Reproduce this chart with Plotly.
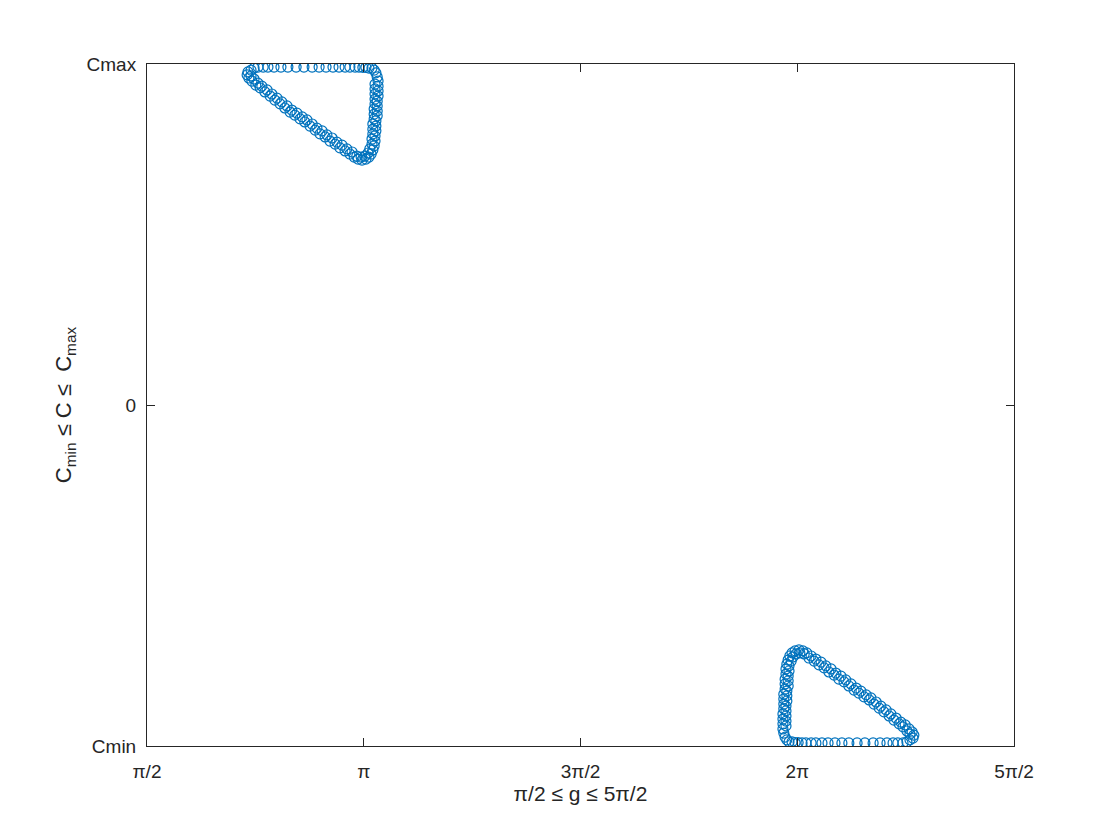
import numpy as np
import plotly.graph_objects as go

# g in units of pi, C normalised so that Cmin = -1 and Cmax = 1
# loop near the top-left corner, first lap
g1_over_pi = [0.731, 0.733, 0.740, 0.747, 0.756, 0.768, 0.779, 0.793, 0.809, 0.825,
              0.844, 0.862, 0.881, 0.897, 0.913, 0.929, 0.943, 0.957, 0.968, 0.980,
              0.989, 0.998, 1.005, 1.012, 1.019, 1.024, 1.028, 1.031, 1.033, 1.033,
              1.033, 1.033, 1.031, 1.031, 1.031, 1.031, 1.028, 1.028, 1.028, 1.026,
              1.026, 1.024, 1.021, 1.017, 1.012, 1.005, 0.996, 0.987, 0.978, 0.968,
              0.957, 0.945, 0.934, 0.922, 0.911, 0.899, 0.888, 0.876, 0.864, 0.853,
              0.841, 0.830, 0.818, 0.807, 0.795, 0.784, 0.772, 0.761, 0.751, 0.742,
              0.735]
c1 = [0.968, 0.977, 0.982, 0.988, 0.991, 0.991, 0.991, 0.991, 0.991, 0.991,
      0.991, 0.991, 0.991, 0.991, 0.991, 0.991, 0.991, 0.991, 0.991, 0.991,
      0.991, 0.990, 0.990, 0.988, 0.988, 0.982, 0.974, 0.962, 0.950, 0.935,
      0.921, 0.906, 0.891, 0.877, 0.862, 0.848, 0.833, 0.818, 0.804, 0.789,
      0.774, 0.760, 0.748, 0.736, 0.727, 0.721, 0.718, 0.721, 0.727, 0.736,
      0.745, 0.754, 0.765, 0.774, 0.786, 0.795, 0.806, 0.818, 0.830, 0.839,
      0.850, 0.859, 0.871, 0.883, 0.894, 0.906, 0.918, 0.930, 0.938, 0.950,
      0.959]
# second lap, slightly inside the first on the right side and diagonal
g1b_over_pi = [1.026, 1.026, 1.026, 1.026, 1.026, 1.024, 1.024, 1.024, 1.021, 1.021,
               1.021, 1.019, 1.019, 1.014, 1.010, 1.003, 0.994, 0.984, 0.973, 0.961,
               0.950, 0.938, 0.927, 0.915, 0.904, 0.892, 0.881, 0.869, 0.858, 0.846,
               0.834, 0.823, 0.811, 0.800, 0.788, 0.777, 0.765, 0.756, 0.747, 0.740]
c1b = [0.941, 0.927, 0.912, 0.897, 0.883, 0.868, 0.853, 0.839, 0.824, 0.809,
       0.795, 0.780, 0.765, 0.751, 0.739, 0.730, 0.727, 0.730, 0.742, 0.751,
       0.762, 0.771, 0.783, 0.792, 0.804, 0.812, 0.824, 0.836, 0.845, 0.856,
       0.865, 0.877, 0.889, 0.900, 0.912, 0.924, 0.935, 0.944, 0.956, 0.965]

# loop near the bottom-right corner, first lap
g2_over_pi = [2.269, 2.267, 2.260, 2.253, 2.244, 2.232, 2.221, 2.207, 2.191, 2.175,
              2.156, 2.138, 2.119, 2.103, 2.087, 2.071, 2.057, 2.043, 2.032, 2.020,
              2.011, 2.002, 1.995, 1.988, 1.981, 1.976, 1.972, 1.969, 1.967, 1.967,
              1.967, 1.967, 1.969, 1.969, 1.969, 1.969, 1.972, 1.972, 1.972, 1.974,
              1.974, 1.976, 1.979, 1.983, 1.988, 1.995, 2.004, 2.013, 2.022, 2.032,
              2.043, 2.055, 2.066, 2.078, 2.089, 2.101, 2.112, 2.124, 2.136, 2.147,
              2.159, 2.170, 2.182, 2.193, 2.205, 2.216, 2.228, 2.239, 2.249, 2.258,
              2.265]
c2 = [-0.968, -0.977, -0.982, -0.988, -0.991, -0.991, -0.991, -0.991, -0.991, -0.991,
      -0.991, -0.991, -0.991, -0.991, -0.991, -0.991, -0.991, -0.991, -0.991, -0.991,
      -0.991, -0.990, -0.990, -0.988, -0.988, -0.982, -0.974, -0.962, -0.950, -0.935,
      -0.921, -0.906, -0.891, -0.877, -0.862, -0.848, -0.833, -0.818, -0.804, -0.789,
      -0.774, -0.760, -0.748, -0.736, -0.727, -0.721, -0.718, -0.721, -0.727, -0.736,
      -0.745, -0.754, -0.765, -0.774, -0.786, -0.795, -0.806, -0.818, -0.830, -0.839,
      -0.850, -0.859, -0.871, -0.883, -0.894, -0.906, -0.918, -0.930, -0.938, -0.950,
      -0.959]
g2b_over_pi = [1.974, 1.974, 1.974, 1.974, 1.974, 1.976, 1.976, 1.976, 1.979, 1.979,
               1.979, 1.981, 1.981, 1.986, 1.990, 1.997, 2.006, 2.016, 2.027, 2.039,
               2.050, 2.062, 2.073, 2.085, 2.096, 2.108, 2.119, 2.131, 2.142, 2.154,
               2.166, 2.177, 2.189, 2.200, 2.212, 2.223, 2.235, 2.244, 2.253, 2.260]
c2b = [-0.941, -0.927, -0.912, -0.897, -0.883, -0.868, -0.853, -0.839, -0.824, -0.809,
       -0.795, -0.780, -0.765, -0.751, -0.739, -0.730, -0.727, -0.730, -0.742, -0.751,
       -0.762, -0.771, -0.783, -0.792, -0.804, -0.812, -0.824, -0.836, -0.845, -0.856,
       -0.865, -0.877, -0.889, -0.900, -0.912, -0.924, -0.935, -0.944, -0.956, -0.965]

x_tick_over_pi = [0.5, 1.0, 1.5, 2.0, 2.5]
x_tick_text = ["π/2", "π", "3π/2", "2π", "5π/2"]
y_tick_vals = [-1, 0, 1]
y_tick_text = ["Cmin", "0", "Cmax"]

blue = "#0072BD"
axis_color = "#262626"
font = "Liberation Sans, Arial, Helvetica, sans-serif"
sp = "\u00a0"

fig = go.Figure()
for gx, cy in [(g1_over_pi, c1), (g1b_over_pi, c1b), (g2_over_pi, c2), (g2b_over_pi, c2b)]:
    fig.add_trace(go.Scatter(
        x=np.array(gx) * np.pi, y=cy, mode="markers",
        marker=dict(symbol="circle-open", size=10, color=blue, line=dict(width=1.2, color=blue)),
        showlegend=False, hoverinfo="skip"))

axis_common = dict(showline=True, linecolor=axis_color, linewidth=1, mirror="ticks",
                   ticks="inside", ticklen=8, tickcolor=axis_color, showgrid=False,
                   zeroline=False, tickfont=dict(family=font, size=19, color=axis_color))

fig.update_xaxes(range=[np.pi / 2, 5 * np.pi / 2],
                 tickvals=[v * np.pi for v in x_tick_over_pi], ticktext=x_tick_text,
                 ticklabelstandoff=8,
                 title=dict(text="π/2 ≤ g ≤ 5π/2", font=dict(family=font, size=21, color=axis_color),
                            standoff=4),
                 **axis_common)
fig.update_yaxes(range=[-1, 1], tickvals=y_tick_vals, ticktext=y_tick_text,
                 ticklabelstandoff=6,
                 title=dict(text=f"C<sub>min</sub>{sp}≤{sp}C{sp}≤{sp}{sp}C<sub>max</sub>",
                            font=dict(family=font, size=22, color=axis_color), standoff=8),
                 **axis_common)

# page body adds an 8 px margin, so the figure is drawn 8 px smaller and shifted
fig.update_layout(width=1104, height=824, plot_bgcolor="white", paper_bgcolor="white",
                  margin=dict(l=139, r=98, t=56, b=86))

fig.write_html("out.html")
